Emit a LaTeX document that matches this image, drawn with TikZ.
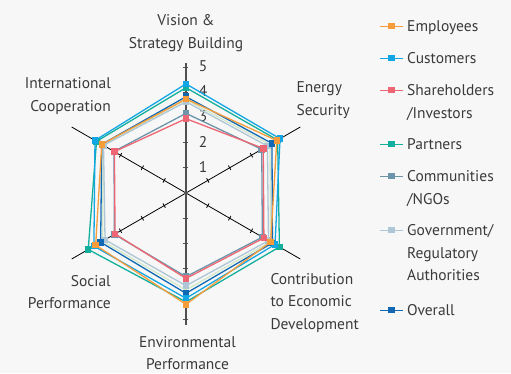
\documentclass[tikz,border=0pt]{standalone}
\usepackage{fontspec}
\setmainfont{PT Sans}
\usetikzlibrary{calc}

\definecolor{bgcol}{HTML}{F7F7F7}
\definecolor{txtcol}{HTML}{3A3A3A}
\definecolor{axcol}{HTML}{505050}
\definecolor{empcol}{HTML}{F79C3A}
\definecolor{cuscol}{HTML}{13A6E4}
\definecolor{shacol}{HTML}{EE6673}
\definecolor{parcol}{HTML}{12B09C}
\definecolor{comcol}{HTML}{6C95AA}
\definecolor{govcol}{HTML}{AEC6D5}
\definecolor{ovrcol}{HTML}{1169B4}
\definecolor{palecol}{HTML}{D3E8C9}

\tikzset{
  serline/.style={line width=1.3pt, line join=miter},
  mark box/.style={rectangle, draw=none, inner sep=0pt, minimum size=6.5pt},
  diag axis/.style={black, line width=0.8pt},
  vert axis/.style={axcol, line width=1.6pt}
}

\def\unit{25.2}

% one radar line: name, colour, six values
\newcommand{\radar}[8]{%
  \foreach \val [count=\idx] in {#3,#4,#5,#6,#7,#8}
    \coordinate (#1\idx) at ({150-60*\idx}:{\val*\unit});
  \draw[serline, #2] (#11) -- (#12) -- (#13) -- (#14) -- (#15) -- (#16) -- cycle;
  \foreach \idx in {1,...,6}
    \node[mark box, fill=#2] (#1m\idx) at (#1\idx) {};
}

% one legend entry: name, colour, y, text
\newcommand{\legitem}[4]{%
  \coordinate (#1l) at (194,#3);
  \coordinate (#1r) at (217,#3);
  \draw[line width=1pt, #2] (#1l) -- (#1r);
  \node[mark box, fill=#2] (#1k) at ($(#1l)!0.5!(#1r)$) {};
  \node[anchor=base west, inner sep=0pt] (#1t) at (221,#3-5.5)
    {\begin{tabular}[t]{@{}l@{}}#4\end{tabular}};
}

\begin{document}
\begin{tikzpicture}[x=1pt, y=1pt, font=\fontsize{15.5}{22.5}\selectfont, text=txtcol]
  \fill[bgcol] (-186,-180) rectangle (325,193);
  \useasboundingbox (-186,-180) rectangle (325,193);

  % axes
  \coordinate (c) at (0,0);
  \coordinate (top) at (90:130);
  \coordinate (bot) at (-90:132);
  \coordinate (ne) at (30:132);
  \coordinate (sw) at (210:132);
  \coordinate (nw) at (150:132);
  \coordinate (se) at (-30:132);
  \draw[diag axis] (ne) -- (sw);
  \draw[diag axis] (nw) -- (se);
  \draw[vert axis] (bot) -- (top);
  \foreach \r in {1,...,5} {
    \draw[axcol, line width=0.9pt] (-3.5,\r*\unit) -- (2,\r*\unit);
    \draw[axcol, line width=0.9pt] (-3.5,-\r*\unit) -- (2,-\r*\unit);
  }
  \foreach \a in {30,150,210,330}
    \foreach \r in {1,...,4}
      \draw[diag axis] ($(\a:\r*\unit)+(\a+90:2.5)$) -- ($(\a:\r*\unit)+(\a-90:2.5)$);
  \foreach \r in {1,...,5}
    \node (tick\r) at (17,\r*\unit+1) {\r};

  % data
  \radar{par}{parcol}{4.18}{4.20}{4.28}{4.32}{4.48}{4.10}
  \coordinate (pl1) at (90:3.70*\unit);
  \coordinate (pl2) at (30:3.85*\unit);
  \coordinate (pl3) at (-30:3.87*\unit);
  \coordinate (pl4) at (-90:3.85*\unit);
  \coordinate (pl5) at (-150:3.82*\unit);
  \coordinate (pl6) at (150:3.80*\unit);
  \draw[serline, palecol] (pl1) -- (pl2) -- (pl3) -- (pl4) -- (pl5) -- (pl6) -- cycle;
  \radar{gov}{govcol}{3.62}{3.73}{3.78}{3.68}{3.71}{3.78}
  \radar{com}{comcol}{3.16}{3.47}{3.50}{3.32}{3.28}{3.30}
  \radar{ovr}{ovrcol}{3.82}{3.94}{3.96}{3.98}{3.91}{3.86}
  \radar{sha}{shacol}{2.95}{3.54}{3.57}{3.39}{3.25}{3.28}
  \radar{cus}{cuscol}{4.33}{4.31}{4.08}{4.18}{4.22}{4.17}
  \radar{emp}{empcol}{3.73}{4.16}{3.88}{4.42}{4.14}{3.86}

  % axis labels
  \node[align=center] (vis) at (0,160) {Vision \&\\Strategy Building};
  \node[anchor=west, align=left] (ene) at (107,93) {Energy\\Security};
  \node[anchor=west, align=left] (con) at (81,-110) {Contribution\\to Economic\\Development};
  \node[align=center] (env) at (1.5,-160) {Environmental\\Performance};
  \node[anchor=east, align=right] (soc) at (-71.7,-99) {Social\\Performance};
  \node[anchor=east, align=right] (int) at (-71.7,97) {International\\Cooperation};

  % legend
  \legitem{lemp}{empcol}{167}{Employees}
  \legitem{lcus}{cuscol}{135}{Customers}
  \legitem{lsha}{shacol}{103}{Shareholders\\/Investors}
  \legitem{lpar}{parcol}{49}{Partners}
  \legitem{lcom}{comcol}{17}{Communities\\/NGOs}
  \legitem{lgov}{govcol}{-37}{Government/\\Regulatory\\Authorities}
  \legitem{lovr}{ovrcol}{-117}{Overall}
\end{tikzpicture}
\end{document}
